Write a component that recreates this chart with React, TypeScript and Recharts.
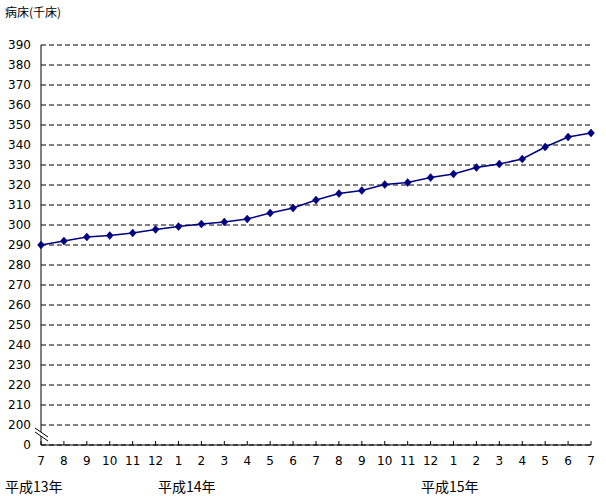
import React from 'react';
import { LineChart, Line, XAxis, YAxis, CartesianGrid } from 'recharts';

// 平成13年7月 〜 平成15年7月 (monthly)
const months = ['7', '8', '9', '10', '11', '12', '1', '2', '3', '4', '5', '6', '7', '8', '9', '10', '11', '12', '1', '2', '3', '4', '5', '6', '7'];
const beds = [290, 292, 294, 294.7, 296, 297.8, 299.2, 300.5, 301.5, 303, 306, 308.5, 312.5, 315.7, 317.2, 320.2, 321.2, 323.7, 325.5, 328.7, 330.5, 333, 339, 344, 346];
// 190 is the broken-axis slot that is labelled "0"
const yTicks = [190, 200, 210, 220, 230, 240, 250, 260, 270, 280, 290, 300, 310, 320, 330, 340, 350, 360, 370, 380, 390];
const yearLabels = [
    { text: '平成13年', left: 5 },
    { text: '平成14年', left: 158 },
    { text: '平成15年', left: 421 },
];

const data = months.map((m, i) => ({ idx: i, month: m, value: beds[i] }));

const font = '"Noto Sans CJK JP", sans-serif';
const numFont = '"DejaVu Sans", sans-serif';

const Diamond = (props: any) => {
    const { cx, cy } = props;
    if (cx == null || cy == null) return null;
    return (
        <polygon
            points={`${cx},${cy - 4} ${cx + 3.5},${cy} ${cx},${cy + 4} ${cx - 3.5},${cy}`}
            fill="#000080"
            stroke="#000080"
            strokeWidth={0.5}
        />
    );
};

const App: React.FC = () => {
    return (
        <div style={{ position: 'absolute', left: 0, top: 0, width: 606, height: 496, background: '#fff', fontFamily: font }}>
            <LineChart
                width={606}
                height={496}
                data={data}
                margin={{ top: 45, right: 15, left: 0, bottom: 21 }}
            >
                <CartesianGrid vertical={false} stroke="#000" strokeDasharray="5 3" />
                <XAxis
                    dataKey="idx"
                    type="number"
                    domain={[0, months.length - 1]}
                    ticks={data.map(d => d.idx)}
                    tickFormatter={(v: number) => months[v]}
                    interval={0}
                    height={30}
                    axisLine={{ stroke: '#000' }}
                    tickLine={{ stroke: '#000' }}
                    tickSize={-4}
                    tickMargin={15}
                    tick={{ fill: '#000', fontSize: 12, fontFamily: numFont }}
                />
                <XAxis xAxisId="top" orientation="top" dataKey="idx" type="number" domain={[0, months.length - 1]} height={0} tick={false} tickLine={false} axisLine={{ stroke: '#000' }} />
                <YAxis
                    type="number"
                    domain={[190, 390]}
                    ticks={yTicks}
                    interval={0}
                    width={41}
                    tickFormatter={(v: number) => (v === 190 ? '0' : String(v))}
                    axisLine={{ stroke: '#000' }}
                    tickLine={false}
                    tickSize={0}
                    tickMargin={10}
                    tick={{ fill: '#000', fontSize: 12, fontFamily: numFont }}
                />
                <YAxis yAxisId="right" orientation="right" domain={[190, 390]} width={0} tick={false} tickLine={false} axisLine={{ stroke: '#000' }} />
                <Line
                    type="linear"
                    dataKey="value"
                    stroke="#000080"
                    strokeWidth={1.5}
                    dot={<Diamond />}
                    activeDot={false}
                    isAnimationActive={false}
                />
            </LineChart>
            {/* axis break mark */}
            <svg width={606} height={496} style={{ position: 'absolute', left: 0, top: 0, pointerEvents: 'none' }}>
                <polygon points="35,428 48,437 48,441 35,432" fill="#fff" />
                <line x1={35} y1={428} x2={48} y2={437} stroke="#000" strokeWidth={1} />
                <line x1={35} y1={432} x2={48} y2={441} stroke="#000" strokeWidth={1} />
            </svg>
            <div style={{ position: 'absolute', left: 5, top: 5, fontSize: 12, lineHeight: '14px', color: '#000' }}>病床(千床)</div>
            {yearLabels.map(l => (
                <div key={l.text} style={{ position: 'absolute', left: l.left, top: 478, fontSize: 14, lineHeight: '16px', color: '#000' }}>
                    {l.text}
                </div>
            ))}
        </div>
    );
};

export default App;
